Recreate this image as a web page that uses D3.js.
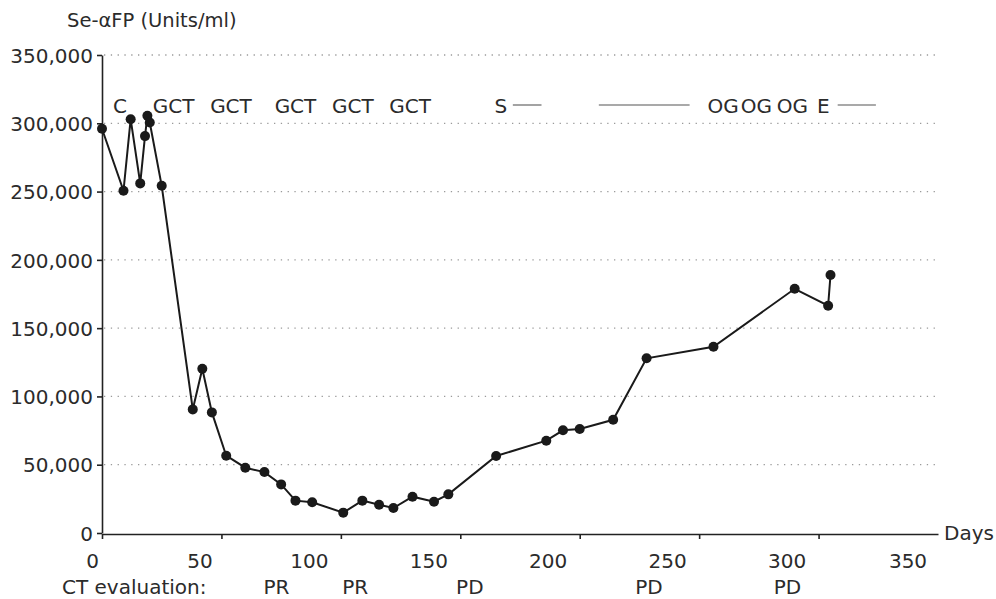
<!DOCTYPE html>
<html>
<head>
<meta charset="utf-8">
<script src="https://cdn.jsdelivr.net/npm/d3@7"></script>
<style>
    body { margin: 0; background: #fff; }
    text { font-family: "DejaVu Sans", sans-serif; fill: #2b2b2b; }
</style>
</head>
<body>
<div id="chart"></div>
<script>
// serum AFP over time
const days = [0, 9, 12, 16, 18, 19, 20, 25, 38, 42, 46, 52, 60, 68, 75, 81, 88, 101, 109, 116,
    122, 130, 139, 145, 165, 186, 193, 200, 214, 228, 256, 290, 304, 305];
const afpValues = [296000, 250600, 303000, 256000, 290600, 305500, 300600, 254200, 90500, 120300,
    88300, 56600, 47800, 44600, 35600, 23700, 22500, 14900, 23700, 20700,
    18300, 26600, 22900, 28300, 56400, 67600, 75200, 76100, 82900, 127900,
    136400, 178800, 166400, 188900];

const xTicks = [0, 50, 100, 150, 200, 250, 300, 350];
const yTicks = [0, 50000, 100000, 150000, 200000, 250000, 300000, 350000];

// treatment annotations along the top
const treatLabels = ["C", "GCT", "GCT", "GCT", "GCT", "GCT", "S", "OG", "OG", "OG", "E"];
const treatDays = [7.5, 30, 54, 81, 105, 129, 167, 260, 274, 289, 302];
const treatLineStart = [172, 208, 308];
const treatLineEnd = [184, 246, 324];

// CT evaluation row
const ctLabels = ["PR", "PR", "PD", "PD", "PD"];
const ctDays = [73, 106, 154, 229, 287];

const width = 996;
const height = 599;

const points = days.map(function(d, i) {
    return { day: d, value: afpValues[i] };
});

const x = d3.scaleLinear().domain([0, 350]).range([102, 938]);
const y = d3.scaleLinear().domain([0, 350000]).range([533, 55]);

const svg = d3.select("#chart")
    .append("svg")
    .attr("width", width)
    .attr("height", height);

// dotted gridlines
svg.append("g")
    .selectAll("line")
    .data(yTicks.slice(1))
    .enter()
    .append("line")
    .attr("x1", x(0) + 2)
    .attr("x2", x(350))
    .attr("y1", function(d) { return y(d); })
    .attr("y2", function(d) { return y(d); })
    .attr("stroke", "#9a9a9a")
    .attr("stroke-width", 1.3)
    .attr("stroke-dasharray", "1.3,5.5");

// y axis
const yAxis = svg.append("g")
    .attr("transform", "translate(" + x(0) + ",0)")
    .call(d3.axisLeft(y)
        .tickValues(yTicks)
        .tickSize(5)
        .tickSizeOuter(0)
        .tickPadding(4)
        .tickFormat(d3.format(",")));

yAxis.selectAll("text")
    .attr("font-size", 20)
    .attr("dy", "0.36em")
    .style("font-family", "DejaVu Sans, sans-serif")
    .attr("fill", "#2b2b2b");

// x axis
const xAxis = svg.append("g")
    .attr("transform", "translate(0," + (y(0) + 1) + ")")
    .call(d3.axisBottom(x)
        .tickValues(xTicks.slice(0, -1))
        .tickSize(5)
        .tickSizeOuter(0)
        .tickFormat(d3.format("d")));

xAxis.selectAll("text")
    .attr("font-size", 20)
    .attr("y", 34)
    .attr("dy", 0)
    .style("font-family", "DejaVu Sans, sans-serif")
    .attr("fill", "#2b2b2b")
    .attr("dx", function(d) {
        return d === 0 ? -10 : d === 50 ? -22 : -32;
    });

// label for the last tick (no tick mark at the axis end)
xAxis.append("text")
    .attr("x", x(350) - 30)
    .attr("y", 34)
    .attr("text-anchor", "middle")
    .attr("font-size", 20)
    .attr("fill", "#2b2b2b")
    .text(xTicks[xTicks.length - 1]);

[yAxis, xAxis].forEach(function(axis) {
    axis.selectAll("path, line")
        .attr("stroke", "#222")
        .attr("stroke-width", 1.6);
});

// axis titles
svg.append("text")
    .attr("x", 67)
    .attr("y", 27)
    .attr("font-size", 19.5)
    .text("Se-\u03b1FP (Units/ml)");

svg.append("text")
    .attr("x", 944)
    .attr("y", y(0) + 7)
    .attr("font-size", 20)
    .text("Days");

// data line
const line = d3.line()
    .x(function(d) { return x(d.day); })
    .y(function(d) { return y(d.value); });

svg.append("path")
    .datum(points)
    .attr("d", line)
    .attr("fill", "none")
    .attr("stroke", "#1a1a1a")
    .attr("stroke-width", 2);

svg.append("g")
    .selectAll("circle")
    .data(points)
    .enter()
    .append("circle")
    .attr("cx", function(d) { return x(d.day); })
    .attr("cy", function(d) { return y(d.value); })
    .attr("r", 5)
    .attr("fill", "#1a1a1a");

// treatment labels
svg.append("g")
    .selectAll("text")
    .data(treatLabels)
    .enter()
    .append("text")
    .attr("x", function(d, i) { return x(treatDays[i]); })
    .attr("y", 113)
    .attr("text-anchor", "middle")
    .attr("font-size", 20)
    .text(function(d) { return d; });

svg.append("g")
    .selectAll("line")
    .data(treatLineStart)
    .enter()
    .append("line")
    .attr("x1", function(d) { return x(d); })
    .attr("x2", function(d, i) { return x(treatLineEnd[i]); })
    .attr("y1", 105)
    .attr("y2", 105)
    .attr("stroke", "#8c8c8c")
    .attr("stroke-width", 1.6);

// CT evaluation row
svg.append("text")
    .attr("x", 62)
    .attr("y", 594)
    .attr("font-size", 20)
    .text("CT evaluation:");

svg.append("g")
    .selectAll("text")
    .data(ctLabels)
    .enter()
    .append("text")
    .attr("x", function(d, i) { return x(ctDays[i]); })
    .attr("y", 594)
    .attr("text-anchor", "middle")
    .attr("font-size", 20)
    .text(function(d) { return d; });
</script>
</body>
</html>
